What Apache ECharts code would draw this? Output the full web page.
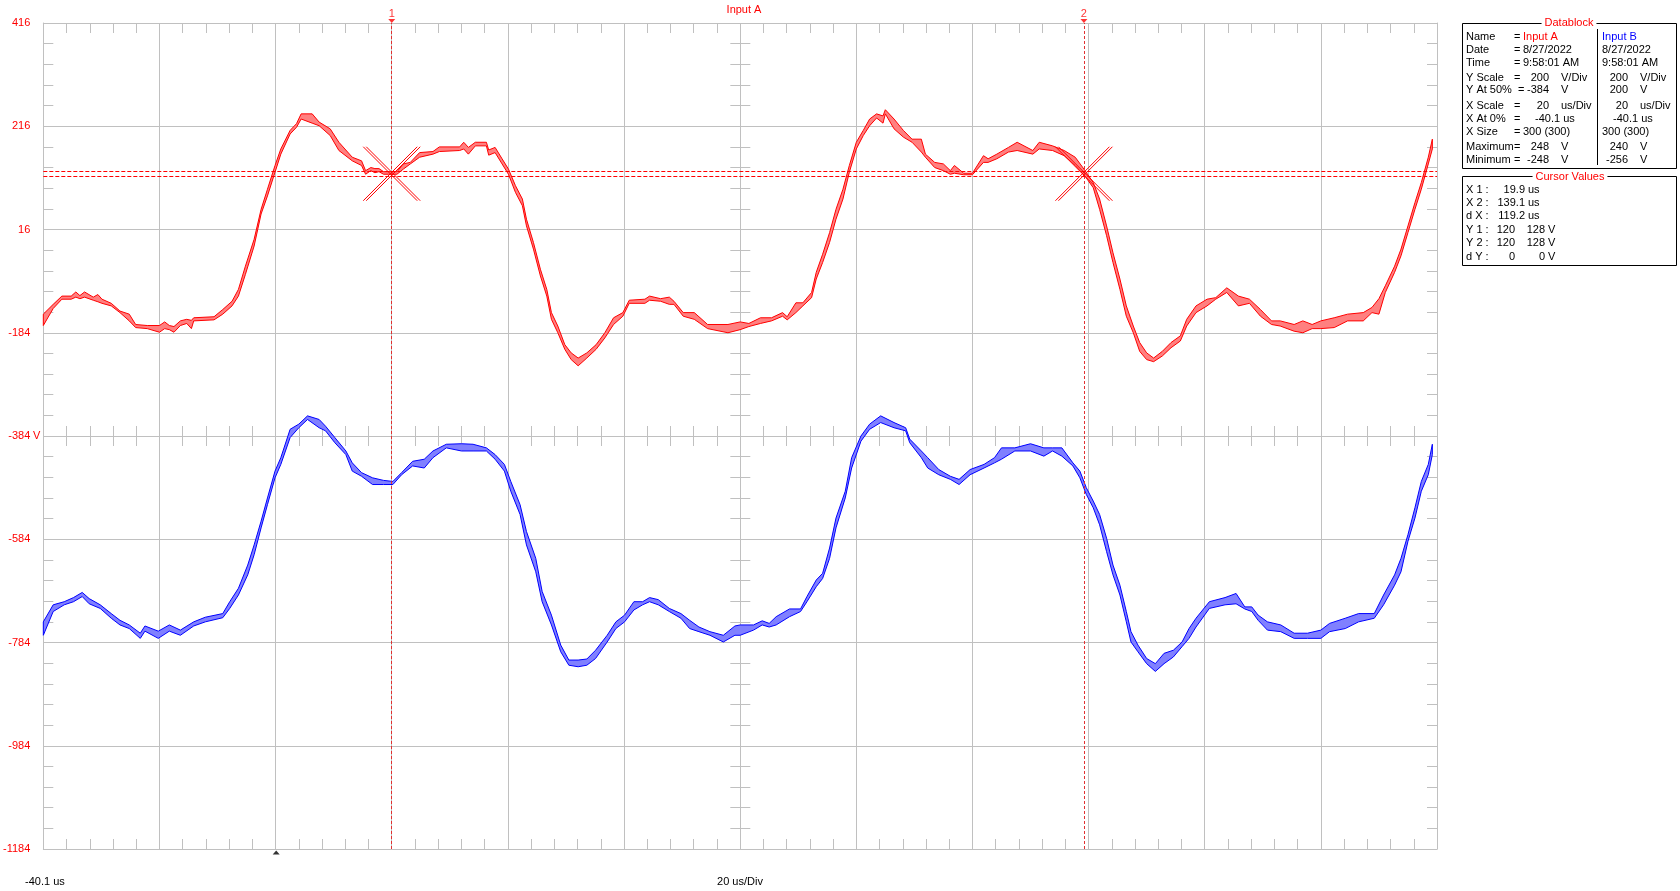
<!DOCTYPE html>
<html><head><meta charset="utf-8">
<script src="https://cdn.jsdelivr.net/npm/echarts@6/dist/echarts.min.js"></script>
<style>html,body{margin:0;padding:0;background:#fff}#c{width:1680px;height:891px}</style>
</head><body><div id="c"></div>
<script>
// ---------- data (time in us, voltage in V) ----------
const tA = [-40.1,-38.4,-36.9,-35.3,-34.5,-33.8,-33.0,-31.5,-30.7,-30.0,-28.4,-26.9,-25.3,-24.2,-22.2,-20.1,-19.2,-18.4,-17.6,-16.5,-15.4,-14.6,-14.2,-10.7,-9.2,-7.6,-6.5,-5.3,-3.8,-2.6,-1.5,-0.2,0.8,2.4,3.5,4.3,6.2,7.4,9.3,10.8,13.1,14.7,15.4,16.3,17.0,17.7,18.5,19.3,20.8,21.9,23.1,24.7,27.0,28.1,31.6,32.3,33.1,34.3,36.2,36.6,37.7,38.9,40.0,41.2,42.4,43.1,44.3,45.5,46.6,47.4,48.5,49.7,50.8,52.0,53.5,55.1,56.6,58.1,59.7,60.8,63.5,64.3,66.2,67.7,68.5,70.1,72.0,74.3,77.8,79.9,81.4,83.4,85.3,87.2,88.0,89.5,90.7,92.2,93.0,94.1,95.3,96.4,97.6,98.7,99.9,101.1,102.2,103.4,104.5,104.9,106.4,108.0,109.5,111.1,111.8,113.4,114.9,116.1,116.8,118.4,119.9,121.8,122.6,124.1,126.1,127.6,130.3,131.4,133.7,135.7,137.6,139.3,140.7,141.8,143.0,144.1,145.3,146.4,147.6,148.7,149.9,151.1,152.6,154.1,155.7,156.8,158.4,160.3,161.8,163.7,165.7,167.6,169.5,171.4,172.9,175.3,176.8,178.4,179.9,182.2,184.5,187.2,188.7,189.9,191.0,192.6,193.7,194.9,196.1,197.2,198.4,199.1];
const aHi = [-148,-129,-113,-113,-105,-112,-105,-115,-110,-119,-127,-142,-148,-168,-170,-170,-163,-170,-172,-161,-158,-160,-155,-153,-139,-123,-100,-55,-3,55,94,140,172,208,221,240,240,224,211,185,156,149,130,136,134,134,128,128,128,143,146,165,167,176,176,185,175,185,185,170,175,153,133,101,75,36,-9,-61,-100,-145,-171,-207,-223,-233,-223,-207,-184,-155,-145,-121,-119,-113,-118,-115,-123,-145,-145,-168,-168,-163,-166,-155,-155,-145,-153,-126,-126,-106,-67,-32,10,55,94,140,185,208,230,240,236,248,230,208,191,191,162,146,143,130,140,125,125,159,153,162,175,185,169,185,178,169,156,130,107,75,23,-29,-80,-132,-171,-203,-223,-233,-220,-203,-190,-158,-132,-119,-116,-97,-113,-119,-139,-161,-161,-168,-161,-168,-161,-155,-148,-145,-135,-118,-93,-55,-22,23,68,107,156,191];
const aLo = [-170,-137,-119,-119,-115,-118,-115,-121,-124,-127,-132,-145,-161,-174,-176,-183,-176,-178,-183,-170,-166,-176,-161,-159,-148,-132,-113,-71,-16,46,81,127,162,201,214,230,222,217,198,169,149,140,123,130,126,128,123,123,123,133,143,156,162,167,169,172,162,178,178,160,165,143,123,88,62,23,-22,-74,-113,-158,-184,-216,-236,-248,-233,-216,-194,-168,-152,-127,-127,-121,-123,-129,-129,-152,-158,-176,-184,-178,-172,-166,-161,-152,-159,-145,-132,-116,-80,-48,-9,36,75,127,172,198,217,232,222,240,211,195,185,166,156,136,130,123,125,122,122,146,146,153,166,169,162,172,169,159,140,119,97,55,4,-48,-100,-152,-184,-220,-236,-240,-229,-213,-200,-171,-145,-132,-119,-106,-132,-127,-152,-168,-171,-181,-184,-176,-176,-174,-161,-161,-145,-148,-106,-67,-35,10,55,94,143,172];

const tB = [-40.1,-38.4,-36.5,-34.9,-33.4,-32.2,-30.3,-28.4,-26.9,-25.3,-23.4,-22.6,-20.3,-18.4,-16.5,-14.2,-12.2,-9.2,-8.0,-6.5,-4.9,-3.8,-2.6,-1.5,-0.2,0.8,2.4,3.9,5.4,7.4,8.5,10.1,12.0,13.1,14.7,16.6,18.5,20.1,21.6,23.5,25.5,27.0,29.3,31.9,33.9,36.2,37.7,39.3,40.4,42.0,43.1,44.7,45.8,47.4,49.0,50.4,52.0,53.5,55.0,57.0,58.5,60.0,61.6,63.1,64.3,65.8,67.7,69.7,71.2,72.8,74.7,77.0,79.0,79.9,82.2,83.7,84.9,86.1,88.4,90.3,91.4,93.0,94.1,95.3,96.4,98.0,99.1,100.7,102.2,104.1,106.4,108.4,109.1,111.1,112.2,114.1,116.1,117.6,119.5,121.9,123.7,124.9,127.2,129.9,132.2,133.7,135.3,137.2,138.4,139.5,140.7,141.8,143.0,144.1,145.3,146.4,147.2,148.4,149.9,151.4,152.9,154.5,156.0,157.2,158.4,160.7,163.4,165.3,166.8,168.0,169.1,170.7,173.0,175.3,177.6,179.9,181.4,184.1,186.4,189.1,190.7,192.6,193.7,194.9,196.1,197.2,198.4,199.1];
const bHi = [-160,-127,-121,-113,-103,-115,-127,-144,-157,-166,-182,-168,-178,-166,-176,-160,-151,-144,-121,-95,-50,-11,35,80,132,158,213,223,239,232,219,197,171,148,129,119,114,112,129,151,155,171,184,185,184,177,164,145,112,67,15,-37,-101,-147,-205,-234,-234,-232,-215,-186,-160,-147,-121,-121,-113,-117,-134,-144,-157,-170,-179,-186,-168,-166,-166,-158,-163,-150,-135,-135,-111,-79,-66,-17,41,93,158,200,223,239,226,216,194,171,158,135,122,116,135,145,158,177,177,185,177,177,177,148,132,100,74,48,2,-50,-89,-140,-179,-205,-231,-241,-221,-215,-199,-173,-153,-121,-113,-105,-131,-131,-147,-160,-166,-182,-182,-176,-163,-153,-144,-144,-108,-69,-37,9,61,112,145,184];
const bLo = [-186,-140,-127,-121,-111,-125,-134,-153,-166,-173,-192,-178,-192,-178,-186,-168,-160,-152,-134,-108,-69,-30,22,67,119,145,197,216,232,216,210,187,164,132,122,106,106,106,125,142,138,158,177,171,171,171,155,132,93,48,-11,-63,-121,-166,-218,-244,-247,-244,-231,-199,-173,-160,-137,-127,-121,-127,-140,-153,-173,-179,-186,-199,-186,-186,-176,-166,-170,-166,-150,-140,-121,-92,-76,-37,22,80,138,190,213,226,216,210,187,158,138,125,116,106,125,138,148,155,171,171,161,171,161,142,119,87,61,28,-24,-69,-108,-160,-199,-218,-241,-256,-241,-228,-208,-192,-170,-134,-127,-125,-135,-140,-157,-176,-179,-192,-192,-192,-179,-173,-160,-153,-127,-89,-63,-4,41,93,125,164];

const yTickLabels = ['416','216','16','-184','-384','-584','-784','-984','-1184'];
const cursorT = [19.9, 139.1];
const cursorY = [120, 128];
const triggerT = 0;

const dbLabels = ['Name','Date','Time','Y Scale','Y At 50%','X Scale','X At 0%','X Size','Maximum','Minimum'];
const dbA = ['Input A','8/27/2022','9:58:01 AM','200','-384','20','-40.1 us','300 (300)','248','-248'];
const dbUnitA = ['','','','V/Div','V','us/Div','','','V','V'];
const dbB = ['Input B','8/27/2022','9:58:01 AM','200','200','20','-40.1 us','300 (300)','240','-256'];
const dbUnitB = ['','','','V/Div','V','us/Div','','','V','V'];
const cvLabels = ['X 1 :','X 2 :','d X :','Y 1 :','Y 2 :','d Y :'];
const cvA = ['19.9','139.1','119.2','120','120','0'];
const cvB = ['','','','128','128','0'];
const cvUnit = ['us','us','us','V','V','V'];

// ---------- layout / style ----------
const FONT = '"Liberation Sans", Arial, sans-serif';
const GREY = '#c0c0c0';
const GL = 43, GT = 23, GW = 1394, GH = 826;

function dispX(extra) {
  return Object.assign({
    type: 'value', min: -120, max: 120, interval: 20,
    axisLine: { show: false, onZero: false, lineStyle: { color: GREY } },
    axisTick: { show: true, inside: true, length: 10, lineStyle: { color: GREY } },
    minorTick: { show: true, splitNumber: 5, length: 10, lineStyle: { color: GREY } },
    axisLabel: { show: false }, splitLine: { show: false }, minorSplitLine: { show: false }
  }, extra);
}
function dispY(extra) {
  return Object.assign({
    type: 'value', min: -800, max: 800, interval: 200,
    axisLine: { show: false, onZero: false, lineStyle: { color: GREY } },
    axisTick: { show: true, inside: true, length: 10, lineStyle: { color: GREY } },
    minorTick: { show: true, splitNumber: 5, length: 10, lineStyle: { color: GREY } },
    axisLabel: { show: false }, splitLine: { show: false }, minorSplitLine: { show: false }
  }, extra);
}
const edgeLine = { show: true, onZero: false, lineStyle: { color: GREY, width: 1 } };
const outTick = { show: true, inside: false, length: 10, lineStyle: { color: GREY } };

// envelope band: one polygon (upper edge forward, lower edge back) drawn through the axes
function band(name, t, hi, lo, yIdx, stroke, fill) {
  return {
    name: name, type: 'custom', xAxisIndex: 4, yAxisIndex: yIdx, z: 3, silent: true,
    data: t.map((x, i) => [x, hi[i], lo[i]]),
    encode: { x: 0, y: [1, 2] },
    renderItem: (params, api) => {
      if (params.dataIndexInside !== 0) return null;
      const n = params.dataInsideLength;
      const up = [], dn = [];
      for (let j = 0; j < n; j++) {
        const x = api.value(0, j);
        up.push(api.coord([x, api.value(1, j)]));
        dn.push(api.coord([x, api.value(2, j)]));
      }
      return { type: 'group', children: [
        { type: 'polygon', shape: { points: up.concat(dn.reverse()) }, style: { fill: fill, stroke: stroke, lineWidth: 1 } }
      ] };
    }
  };
}

const graphics = [];
function txt(x, y, text, color, align) {
  graphics.push({ type: 'text', x: x, y: y, silent: true, z: 100,
    style: { text: text, fill: color || '#000', font: '11px ' + FONT, align: align || 'left', verticalAlign: 'middle' } });
}
txt(744, 10, 'Input A', '#ff0000', 'center');
txt(33, 436, 'V', '#ff0000', 'left');
txt(25, 882, '-40.1 us', '#000', 'left');
txt(740, 882, '20 us/Div', '#000', 'center');

graphics.push({ type: 'rect', shape: { x: 1462.5, y: 23.5, width: 214, height: 145 }, style: { fill: 'none', stroke: '#000', lineWidth: 1 }, silent: true, z: 99 });
graphics.push({ type: 'line', shape: { x1: 1597.5, y1: 29, x2: 1597.5, y2: 165 }, style: { stroke: '#000', lineWidth: 1 }, silent: true, z: 99 });
graphics.push({ type: 'text', x: 1569, y: 23, z: 101, silent: true, style: { text: 'Datablock', fill: '#ff0000', font: '11px ' + FONT, align: 'center', verticalAlign: 'middle', backgroundColor: '#fff', padding: [0, 3] } });
const dbRowY = [36.7, 50, 62.7, 77.7, 90.3, 106, 118.7, 131.7, 146.7, 160];
dbLabels.forEach((lab, i) => {
  const y = dbRowY[i];
  txt(1466, y, lab);
  txt(i === 4 ? 1518 : 1514, y, '=');
  if ([0, 1, 2, 7].includes(i)) {
    txt(1523, y, dbA[i], i === 0 ? '#ff0000' : '#000');
    txt(1602, y, dbB[i], i === 0 ? '#0000ff' : '#000');
  } else if (i === 6) {
    txt(1535, y, dbA[i]);
    txt(1613, y, dbB[i]);
  } else {
    txt(1549, y, dbA[i], '#000', 'right');
    txt(1561, y, dbUnitA[i]);
    txt(1628, y, dbB[i], '#000', 'right');
    txt(1640, y, dbUnitB[i]);
  }
});
graphics.push({ type: 'rect', shape: { x: 1462.5, y: 176.5, width: 214, height: 89 }, style: { fill: 'none', stroke: '#000', lineWidth: 1 }, silent: true, z: 99 });
graphics.push({ type: 'text', x: 1570, y: 177, z: 101, silent: true, style: { text: 'Cursor Values', fill: '#ff0000', font: '11px ' + FONT, align: 'center', verticalAlign: 'middle', backgroundColor: '#fff', padding: [0, 3] } });
const cvRowY = [190, 202.7, 216, 230, 243.3, 256.7];
cvLabels.forEach((lab, i) => {
  const y = cvRowY[i];
  txt(1466, y, lab);
  if (i < 3) {
    txt(1525, y, cvA[i], '#000', 'right');
    txt(1528, y, cvUnit[i]);
  } else {
    txt(1515, y, cvA[i], '#000', 'right');
    txt(1545, y, cvB[i], '#000', 'right');
    txt(1548, y, cvUnit[i]);
  }
});

const crossY = (cursorY[0] + cursorY[1]) / 2;

const option = {
  animation: false,
  backgroundColor: '#fff',
  grid: { left: GL, top: GT, width: GW, height: GH, containLabel: false },
  xAxis: [
    dispX({ position: 'bottom', axisLine: edgeLine, splitLine: { show: true, lineStyle: { color: GREY, width: 1 } } }),
    dispX({ position: 'top', axisLine: edgeLine }),
    dispX({ position: 'bottom', offset: -GH / 2 }),
    dispX({ position: 'bottom', offset: -GH / 2, axisTick: outTick }),
    { type: 'value', position: 'bottom', min: -40.1, max: 199.9, show: false, axisLine: { onZero: false } }
  ],
  yAxis: [
    dispY({ position: 'left', axisLine: edgeLine, splitLine: { show: true, lineStyle: { color: GREY, width: 1 } },
      axisLabel: { show: true, margin: 13, color: '#ff0000', fontSize: 11, fontFamily: FONT,
        formatter: (v) => yTickLabels[Math.round((800 - v) / 200)] } }),
    dispY({ position: 'right', axisLine: edgeLine }),
    dispY({ position: 'left', offset: -GW / 2 }),
    dispY({ position: 'left', offset: -GW / 2, axisTick: outTick }),
    { type: 'value', position: 'left', min: -1184, max: 416, show: false, axisLine: { onZero: false } },
    { type: 'value', position: 'left', min: -600, max: 1000, show: false, axisLine: { onZero: false } }
  ],
  series: [
    band('Input A', tA, aHi, aLo, 4, '#ff0000', '#ff8080'),
    band('Input B', tB, bHi, bLo, 5, '#0000ff', '#8080ff'),
    { name: 'cross', type: 'custom', xAxisIndex: 4, yAxisIndex: 4, z: 6, silent: true, clip: false,
      data: cursorT.map(t => [t, crossY]),
      renderItem: (params, api) => {
        const c = api.coord([api.value(0), api.value(1)]);
        const r = 27, st = { stroke: '#ff0000', lineWidth: 1, fill: 'none' };
        const ch = [];
        [-1.5, 1.5].forEach(s => {
          ch.push({ type: 'line', shape: { x1: c[0] - r + s, y1: c[1] - r, x2: c[0] + r + s, y2: c[1] + r }, style: st });
          ch.push({ type: 'line', shape: { x1: c[0] - r + s, y1: c[1] + r, x2: c[0] + r + s, y2: c[1] - r }, style: st });
        });
        return { type: 'group', children: ch };
      },
      markLine: { silent: true, symbol: ['none', 'none'], label: { show: false }, animation: false,
        data: [
          ...cursorT.map(t => ({ xAxis: t, lineStyle: { color: '#e03030', type: [3, 2], width: 1 } })),
          ...cursorY.map(v => ({ yAxis: v, lineStyle: { color: '#ff0000', type: [4, 2], width: 1 } }))
        ] } },
    { name: 'cursorMarks', type: 'scatter', xAxisIndex: 4, yAxisIndex: 4, z: 7, silent: true, clip: false,
      data: cursorT.map((t, i) => [t, 416, String(i + 1)]),
      symbol: 'triangle', symbolRotate: 180, symbolSize: [7, 4], symbolOffset: [0, -2],
      itemStyle: { color: '#ff0000' },
      label: { show: true, position: 'top', distance: 0, formatter: p => p.data[2], color: '#ff0000', fontSize: 11, fontFamily: FONT } },
    { name: 'trigger', type: 'scatter', xAxisIndex: 4, yAxisIndex: 4, z: 7, silent: true, clip: false,
      data: [[triggerT, -1184]], symbol: 'triangle', symbolSize: [7, 4], symbolOffset: [0, 3.5],
      itemStyle: { color: '#000' } }
  ],
  graphic: graphics
};
const chart = echarts.init(document.getElementById('c'), null, { renderer: 'canvas' });
chart.setOption(option);
</script>
</body></html>
